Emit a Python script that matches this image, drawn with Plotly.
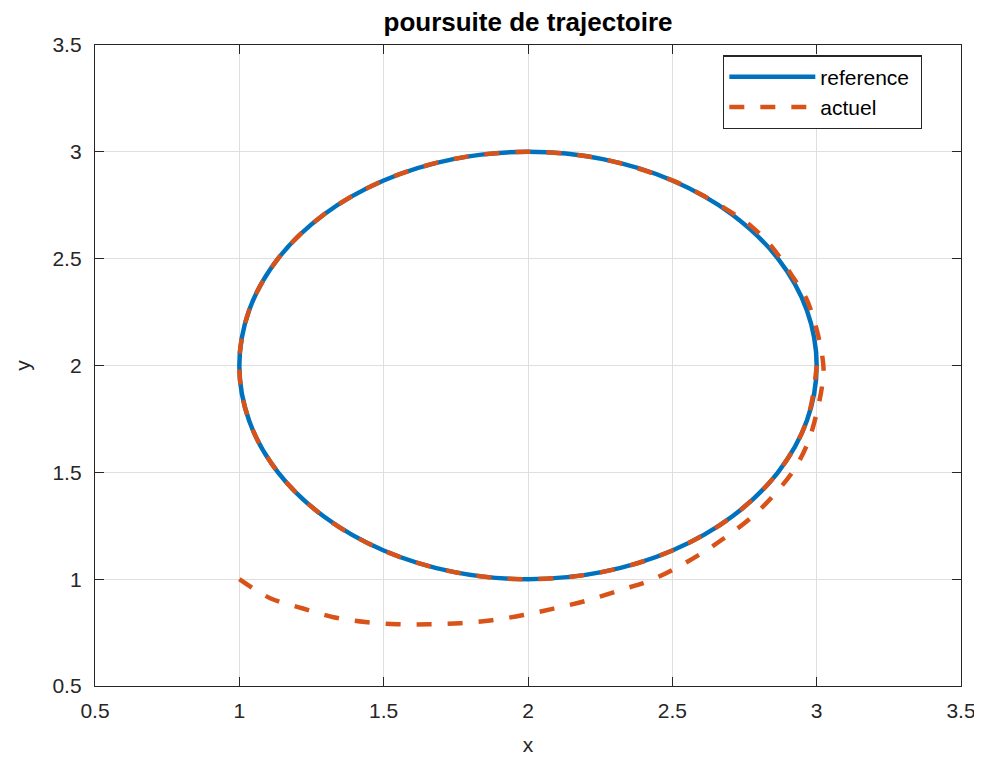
import plotly.graph_objects as go

MATLAB_BLUE = "#0072BD"
MATLAB_ORANGE = "#D95319"
AXIS_COLOR = "#262626"
GRID_COLOR = "#DFDFDF"
FONT = "Liberation Sans, Arial, sans-serif"

# the page body keeps its 8px margin, so the figure is drawn 8px smaller
FIG_W = 974
FIG_H = 758

# reference circle
ref_x = [3.000, 2.966, 2.866, 2.707, 2.500, 2.259, 2.000, 1.741, 1.500, 1.293,
         1.134, 1.034, 1.000, 1.034, 1.134, 1.293, 1.500, 1.741, 2.000, 2.259,
         2.500, 2.707, 2.866, 2.966, 3.000]
ref_y = [2.000, 2.259, 2.500, 2.707, 2.866, 2.966, 3.000, 2.966, 2.866, 2.707,
         2.500, 2.259, 2.000, 1.741, 1.500, 1.293, 1.134, 1.034, 1.000, 1.034,
         1.134, 1.293, 1.500, 1.741, 2.000]

act_x = [1.000, 1.107, 1.218, 1.326, 1.436, 1.547, 1.655, 1.766, 1.876, 1.984,
         2.094, 2.205, 2.320, 2.412, 2.510, 2.603, 2.689, 2.779, 2.853, 2.918,
         2.966, 2.998, 3.019, 3.024, 3.019, 2.998, 2.965, 2.910, 2.845, 2.775,
         2.710, 2.600, 2.500, 2.259, 2.000, 1.741, 1.500, 1.293, 1.134, 1.034,
         1.000, 1.034, 1.134, 1.293, 1.500, 1.741, 2.000, 2.259, 2.500, 2.707,
         2.866, 2.966, 3.000]
act_y = [1.000, 0.911, 0.864, 0.822, 0.799, 0.789, 0.789, 0.794, 0.808, 0.832,
         0.864, 0.900, 0.949, 0.988, 1.050, 1.123, 1.201, 1.295, 1.396, 1.505,
         1.627, 1.766, 1.906, 1.975, 2.047, 2.178, 2.310, 2.430, 2.555, 2.650,
         2.712, 2.800, 2.866, 2.966, 3.000, 2.966, 2.866, 2.707, 2.500, 2.259,
         2.000, 1.741, 1.500, 1.293, 1.134, 1.034, 1.000, 1.034, 1.134, 1.293,
         1.500, 1.741, 2.000]

x_ticks = [0.5, 1, 1.5, 2, 2.5, 3, 3.5]
y_ticks = [0.5, 1, 1.5, 2, 2.5, 3, 3.5]

fig = go.Figure()
fig.add_trace(go.Scatter(
    x=ref_x, y=ref_y, mode="lines", name="reference&nbsp;",
    line=dict(color=MATLAB_BLUE, width=4.5, shape="spline", smoothing=1.0),
))
fig.add_trace(go.Scatter(
    x=act_x, y=act_y, mode="lines", name="actuel",
    line=dict(color=MATLAB_ORANGE, width=4.5, dash="15px,16px",
              shape="spline", smoothing=1.0),
))

axis_common = dict(
    showgrid=True, gridcolor=GRID_COLOR, gridwidth=1,
    zeroline=False, automargin=False,
    showline=True, linecolor=AXIS_COLOR, linewidth=1.3, mirror="allticks",
    ticks="inside", ticklen=9, tickcolor=AXIS_COLOR, tickwidth=1.3,
    tickfont=dict(family=FONT, size=21, color=AXIS_COLOR),
)

fig.update_xaxes(
    range=[0.5, 3.5], tickvals=x_ticks, ticktext=[f"{v:g}" for v in x_ticks],
    ticklabelstandoff=6,
    title=dict(text="x", font=dict(family=FONT, size=21, color=AXIS_COLOR), standoff=15),
    **axis_common,
)
fig.update_yaxes(
    range=[0.5, 3.5], tickvals=y_ticks, ticktext=[f"{v:g}" for v in y_ticks],
    ticklabelstandoff=8,
    title=dict(text="y", font=dict(family=FONT, size=21, color=AXIS_COLOR), standoff=16),
    **axis_common,
)

fig.update_layout(
    width=FIG_W, height=FIG_H,
    margin=dict(l=87, r=21, t=37, b=80),
    paper_bgcolor="white", plot_bgcolor="white",
    font=dict(family=FONT, color=AXIS_COLOR),
    title=dict(
        text="<b>poursuite de trajectoire</b>",
        font=dict(family=FONT, size=26, color="black"),
        x=0.5, xref="paper", xanchor="center",
        y=1 - 14 / FIG_H, yref="container", yanchor="middle",
    ),
    legend=dict(
        x=0.955, y=0.984, xanchor="right", yanchor="top",
        bgcolor="white", bordercolor=AXIS_COLOR, borderwidth=1.3,
        font=dict(family=FONT, size=21, color="black"),
        itemwidth=86, tracegroupgap=0,
    ),
    showlegend=True,
)

fig.write_html("out.html")
